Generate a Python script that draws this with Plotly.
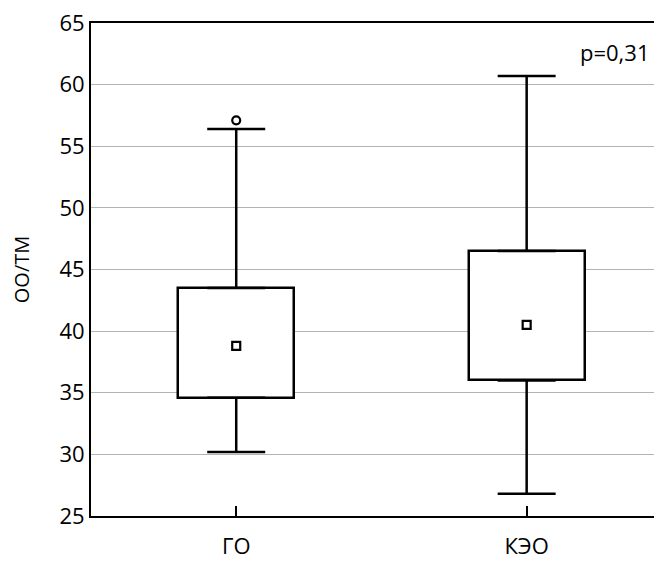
import plotly.graph_objects as go

categories = ["ГО", "КЭО"]
q1 = [34.6, 36.0]
q3 = [43.5, 46.5]
median = [38.8, 40.5]
lower_whisker = [30.2, 26.8]
upper_whisker = [56.4, 60.7]
outlier_cat = ["ГО"]
outlier_val = [57.1]
y_ticks = [25, 30, 35, 40, 45, 50, 55, 60, 65]
p_text = "p=0,31"

FONT = "Open Sans"
LW = 2.5

fig = go.Figure()

# boxes (interquartile range)
fig.add_trace(go.Bar(
    x=categories, y=[b - a for a, b in zip(q1, q3)], base=q1, width=0.4,
    marker=dict(color="white", line=dict(color="black", width=LW)),
    hoverinfo="skip", showlegend=False,
))
# upper whiskers
fig.add_trace(go.Scatter(
    x=categories, y=q3, mode="markers", marker=dict(size=1, opacity=0),
    error_y=dict(type="data", symmetric=False,
                 array=[u - b for u, b in zip(upper_whisker, q3)],
                 arrayminus=[0, 0], color="black", thickness=LW, width=29),
    showlegend=False, hoverinfo="skip",
))
# lower whiskers
fig.add_trace(go.Scatter(
    x=categories, y=q1, mode="markers", marker=dict(size=1, opacity=0),
    error_y=dict(type="data", symmetric=False, array=[0, 0],
                 arrayminus=[a - l for a, l in zip(q1, lower_whisker)],
                 color="black", thickness=LW, width=29),
    showlegend=False, hoverinfo="skip",
))
# medians
fig.add_trace(go.Scatter(
    x=categories, y=median, mode="markers",
    marker=dict(symbol="square-open", size=8, color="black", line=dict(width=2.2)),
    showlegend=False,
))
# outliers
fig.add_trace(go.Scatter(
    x=outlier_cat, y=outlier_val, mode="markers",
    marker=dict(symbol="circle-open", size=8, color="black", line=dict(width=2.2)),
    showlegend=False,
))

fig.add_annotation(text=p_text, xref="paper", yref="paper", x=0.98, y=0.941,
                   xanchor="right", yanchor="middle", showarrow=False,
                   font=dict(family=FONT, size=22, color="black"))

fig.update_layout(
    width=654, height=554,
    margin=dict(l=83, r=0, t=15, b=46),
    paper_bgcolor="white", plot_bgcolor="white",
    font=dict(family=FONT, size=22, color="black"),
    bargap=0,
)
fig.update_xaxes(
    type="category", range=[-0.5, 1.466],
    showline=True, linecolor="black", linewidth=2, mirror=True,
    ticks="inside", ticklen=10, tickwidth=2, tickcolor="black",
    showgrid=False, tickfont=dict(family=FONT, size=22), ticklabelstandoff=10,
)
fig.update_yaxes(
    range=[25, 65], tickvals=y_ticks, showline=True, linecolor="black",
    linewidth=2, mirror=False, showgrid=True, gridcolor="#b4b4b4", gridwidth=1.2,
    ticks="", zeroline=False, tickfont=dict(family=FONT, size=22),
    ticklabeloverflow="allow",
    title=dict(text="ОО/ТМ", font=dict(family=FONT, size=20), standoff=26),
)

fig.write_html("out.html")
